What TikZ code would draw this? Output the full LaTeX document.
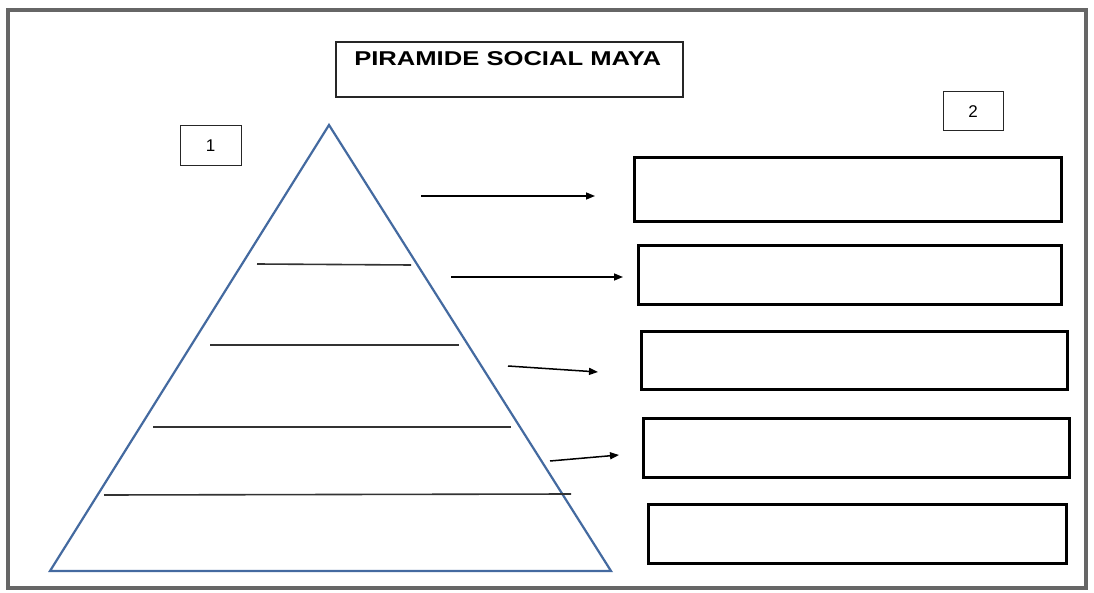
\documentclass[tikz,border=0pt]{standalone}
\usepackage{fontspec}
\setmainfont{Liberation Sans}
\usetikzlibrary{arrows.meta}
\definecolor{pyrblue}{RGB}{68,106,160}
\tikzset{
  answerbox/.style={draw=black, line width=3pt, rectangle, inner sep=0pt},
  numbox/.style={draw=black!85, line width=1pt, rectangle, inner sep=0pt, minimum width=61pt, minimum height=40pt, font=\fontsize{17pt}{19pt}\selectfont},
  levelline/.style={draw=black!80, line width=1.6pt},
  pointer/.style={draw=black, line width=1.5pt, -{Triangle[length=9pt,width=7pt]}},
}
\begin{document}
\begin{tikzpicture}[x=1pt,y=-1pt]
\useasboundingbox (0,0) rectangle (1094,593);
\fill[white] (0,0) rectangle (1094,593);
% frame
\draw[black!60, line width=4pt] (8,10) rectangle (1086,588);
% title
\node[draw=black!85, line width=1.5pt, rectangle, inner sep=0pt, minimum width=347pt, minimum height=55pt] (title) at (509.5,69.5) {};
\node[anchor=base west, inner sep=0pt, font=\fontsize{20pt}{22pt}\selectfont\bfseries, xscale=1.28] (titletext) at (354,66) {PIRAMIDE SOCIAL MAYA};
% number boxes
\node[numbox] (n1) at (210.5,146) {1};
\node[numbox, minimum width=60pt, minimum height=39pt] (n2) at (973,111.5) {2};
% pyramid
\coordinate (apex) at (329,125);
\coordinate (bl) at (50,571);
\coordinate (br) at (611,571);
\draw[pyrblue, line width=2.2pt, line join=miter] (apex) -- (bl) -- (br) -- cycle;
% level lines
\coordinate (l1a) at (257,264); \coordinate (l1b) at (411,265);
\coordinate (l2a) at (210,345); \coordinate (l2b) at (459,345);
\coordinate (l3a) at (153,427); \coordinate (l3b) at (511,427);
\coordinate (l4a) at (104,495); \coordinate (l4b) at (571,494);
\draw[levelline] (l1a) -- (l1b);
\draw[levelline] (l2a) -- (l2b);
\draw[levelline] (l3a) -- (l3b);
\draw[levelline] (l4a) -- (l4b);
% answer boxes
\node[answerbox, minimum width=427pt, minimum height=64pt] (b1) at (847.5,190) {};
\node[answerbox, minimum width=423pt, minimum height=59pt] (b2) at (849.5,275.5) {};
\node[answerbox, minimum width=426pt, minimum height=58pt] (b3) at (854,360) {};
\node[answerbox, minimum width=426pt, minimum height=59pt] (b4) at (856,447.5) {};
\node[answerbox, minimum width=418pt, minimum height=59pt] (b5) at (857,533.5) {};
% arrows
\coordinate (a1s) at (421,196); \coordinate (a1e) at (595,196);
\coordinate (a2s) at (451,277); \coordinate (a2e) at (623,277);
\coordinate (a3s) at (508,366); \coordinate (a3e) at (598,372);
\coordinate (a4s) at (550,461); \coordinate (a4e) at (619,455);
\draw[pointer] (a1s) -- (a1e);
\draw[pointer] (a2s) -- (a2e);
\draw[pointer] (a3s) -- (a3e);
\draw[pointer] (a4s) -- (a4e);
\end{tikzpicture}
\end{document}
